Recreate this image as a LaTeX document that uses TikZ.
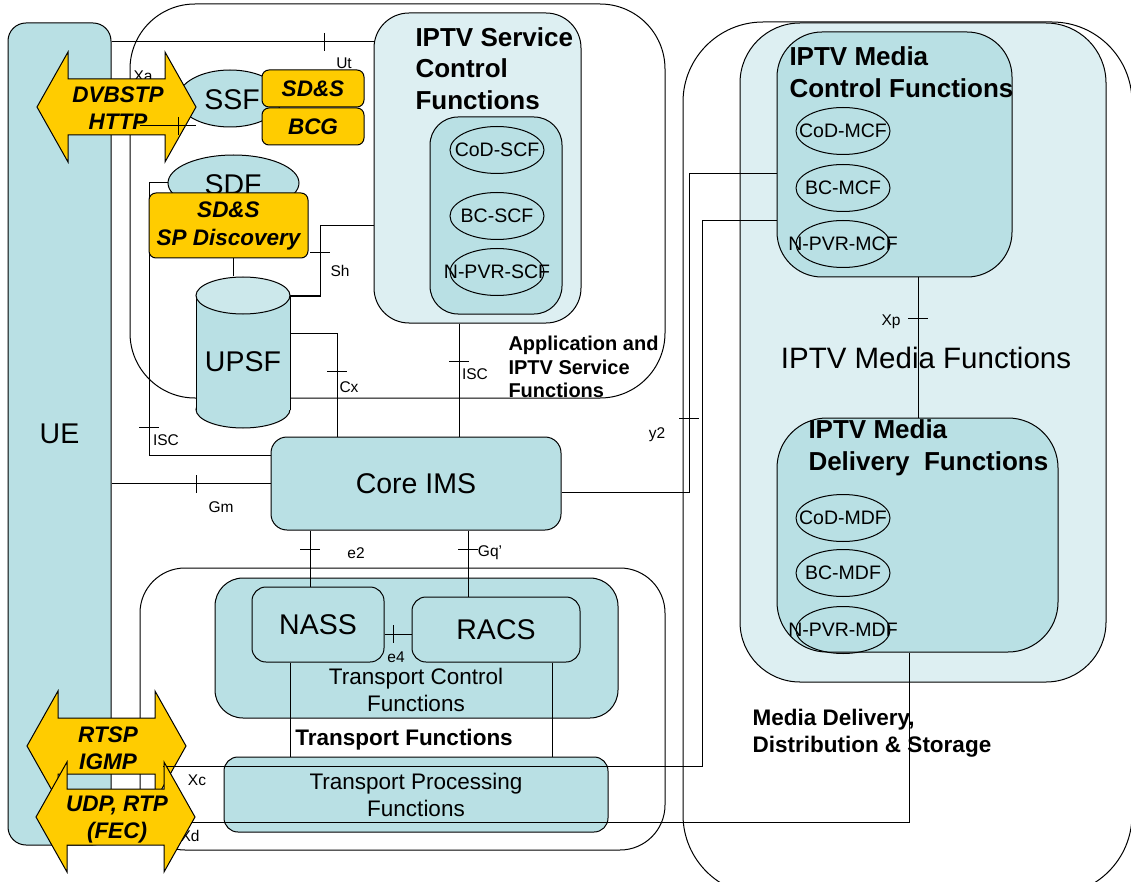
\documentclass[tikz,border=0pt]{standalone}
\usepackage{fontspec}
\setmainfont{Liberation Sans}
\usetikzlibrary{positioning,shapes.geometric}

\definecolor{boxteal}{RGB}{185,224,228}
\definecolor{boxlight}{RGB}{221,239,242}
\definecolor{captop}{RGB}{204,232,235}
\definecolor{protogold}{RGB}{255,204,0}

\tikzset{
  tealbox/.style={draw, fill=boxteal, rounded corners=#1, inner sep=0pt},
  lightbox/.style={draw, fill=boxlight, rounded corners=#1, inner sep=0pt},
  openbox/.style={draw, rounded corners=#1, inner sep=0pt},
  goldbox/.style={draw, fill=protogold, rounded corners=7pt, inner sep=0pt, align=center,
    font=\fontsize{22.5}{28}\selectfont\bfseries\itshape},
  fn/.style={draw, ellipse, minimum width=94pt, minimum height=47pt, inner sep=0pt},
  fntxt/.style={inner sep=0pt, font=\fontsize{19.5}{22}\selectfont},
  bigtxt/.style={font=\fontsize{28.5}{32}\selectfont},
  ttl/.style={anchor=west, align=left, inner sep=0pt, font=\fontsize{26}{31.5}\selectfont\bfseries},
  grp/.style={anchor=west, align=left, inner sep=0pt, font=\fontsize{20}{23.5}\selectfont\bfseries},
  midtxt/.style={align=center, inner sep=0pt, font=\fontsize{22.5}{27}\selectfont},
  ifc/.style={inner sep=0pt, font=\fontsize{15.5}{18}\selectfont},
  proto/.style={draw, fill=protogold, line join=miter},
  arrtxt/.style={align=center, inner sep=0pt, font=\fontsize{22.5}{27}\selectfont\bfseries\itshape},
}

\begin{document}
\begin{tikzpicture}[x=1pt, y=-1pt, line width=1pt]
\useasboundingbox (0,0) rectangle (1131,882);
\clip (0,0) rectangle (1131,882);

\def\ahl{31}
\def\ahh{55}
\def\ash{28}
\def\protoarrow#1#2#3{%
  \filldraw[proto] (#1,#3) -- (#1+\ahl,#3-\ahh) -- (#1+\ahl,#3-\ash) -- (#2-\ahl,#3-\ash)
    -- (#2-\ahl,#3-\ahh) -- (#2,#3) -- (#2-\ahl,#3+\ahh) -- (#2-\ahl,#3+\ash)
    -- (#1+\ahl,#3+\ash) -- (#1+\ahl,#3+\ahh) -- cycle;}

\node[openbox=80pt, minimum width=449pt, minimum height=873pt] (mds) at (907.5,458.5) {};
\node[openbox=65pt, minimum width=535pt, minimum height=394pt] (app) at (397.5,201) {};
\node[openbox=45pt, minimum width=525pt, minimum height=282pt] (trf) at (402.5,709) {};

\node[lightbox=60pt, minimum width=366pt, minimum height=659pt] (imf) at (923,352.5) {};
\node[tealbox=45pt, minimum width=235pt, minimum height=245pt] (mcf) at (894.5,154.5) {};
\node[tealbox=50pt, minimum width=281pt, minimum height=234pt] (mdf) at (917.5,535) {};
\node[ttl] at (789,72) {IPTV Media\\Control Functions};
\node[ttl] at (808,448) {IPTV Media\\Delivery~~Functions};
\node[inner sep=0pt, font=\fontsize{29.5}{32}\selectfont] at (926,358) {IPTV Media Functions};
\foreach \nm/\y/\t in {codmcf/131/CoD-MCF, bcmcf/188/BC-MCF, npvrmcf/244/N-PVR-MCF,
                       codmdf/518/CoD-MDF, bcmdf/573/BC-MDF, npvrmdf/630/N-PVR-MDF}{
  \node[fn] (\nm) at (843,\y) {};
  \node[fntxt] at (\nm) {\t};
}

\node[lightbox=35pt, minimum width=207pt, minimum height=310pt] (iscf) at (477.5,168) {};
\node[tealbox=28pt, minimum width=132pt, minimum height=197pt] (scf) at (496,215.5) {};
\node[ttl] at (415,68.5) {IPTV Service\\Control\\Functions};
\foreach \nm/\y/\t in {codscf/150/CoD-SCF, bcscf/216/BC-SCF, npvrscf/272/N-PVR-SCF}{
  \node[fn] (\nm) at (497,\y) {};
  \node[fntxt] at (\nm) {\t};
}

\node[tealbox=18pt, minimum width=103pt, minimum height=822pt, bigtxt] (ue) at (59.5,434) {UE};
\node[tealbox=16pt, minimum width=290pt, minimum height=93pt, bigtxt] (ims) at (416,483.5) {Core IMS};
\node[tealbox=28pt, minimum width=403pt, minimum height=140pt] (tcf) at (416.5,648) {};
\node[midtxt] at (416,689.5) {Transport Control\\Functions};
\node[tealbox=14pt, minimum width=132pt, minimum height=75pt, bigtxt] (nass) at (318,624.5) {NASS};
\node[tealbox=14pt, minimum width=168pt, minimum height=65pt, bigtxt] (racs) at (496,629.5) {RACS};
\node[tealbox=14pt, minimum width=384pt, minimum height=75pt, midtxt] (tpf) at (416,794.5) {Transport Processing\\Functions};

\node[grp] at (508,367) {Application and\\IPTV Service\\Functions};
\node[grp, font=\fontsize{22.5}{27}\selectfont\bfseries] at (752,733.5) {Media Delivery,\\Distribution \& Storage};
\node[inner sep=0pt, font=\fontsize{22.5}{27}\selectfont\bfseries] at (404,740) {Transport Functions};

\node[minimum width=94pt, minimum height=151pt, inner sep=0pt] (upsf) at (243,352.5) {};
\node[draw, ellipse, fill=boxteal, minimum width=131pt, minimum height=56pt, inner sep=0pt] (sdf) at (233.5,183) {};

\draw (ue.east |- 0,42) -- (iscf.west |- 0,42);
\draw (upsf.east |- 0,296) -| (320,226) -- (iscf.west |- 0,226);
\draw (sdf.south) -- (upsf.north -| sdf.south);
\draw (ims.north -| 337,0) |- (upsf.east |- 0,333);
\draw (ims.west |- 0,455) -| (149,183) -- (sdf.west);
\draw (iscf.south -| 459,0) -- (ims.north -| 459,0);
\draw (ue.east |- ims.west) -- (ims.west);
\draw (ims.south -| 310,0) -- (nass.north -| 310,0);
\draw (ims.south -| 468,0) -- (racs.north -| 468,0);
\draw (nass.east |- 0,634) -- (racs.west |- 0,634);
\draw (nass.south -| 290,0) -- (tpf.north -| 290,0);
\draw (racs.south -| 552,0) -- (tpf.north -| 552,0);
\draw (ims.east |- 0,492) -| (689,174) -- (mcf.west |- 0,174);
\draw (mcf.south -| 918,0) -- (mdf.north -| 918,0);

\foreach \x/\y in {324/42, 196/484, 393/634}
  \draw (\x,\y-9) -- (\x,\y+9);
\foreach \x/\y in {320/253, 337/371, 149/427, 459/361, 310/549, 468/549, 689/418, 918/318}
  \draw (\x-10,\y) -- (\x+10,\y);

\node[draw, ellipse, fill=boxteal, minimum width=104pt, minimum height=57pt, inner sep=0pt] (ssf) at (230,98.5) {};
\node[bigtxt] at (232,100) {SSF};
\node[goldbox, minimum width=102pt, minimum height=37pt] (sds) at (313,88.5) {SD\&S};
\node[goldbox, minimum width=102pt, minimum height=37pt] (bcg) at (313,126.5) {BCG};
\node[bigtxt] at (233,185) {SDF};
\node[goldbox, minimum width=159pt, minimum height=65pt] (spd) at (228.5,225.5) {SD\&S\\SP Discovery};

\filldraw[fill=boxteal] (243,409.5) ellipse (47 and 18.5);
\fill[boxteal] (196,295.5) rectangle (290,409.5);
\draw (196,295.5) -- (196,409.5) (290,295.5) -- (290,409.5);
\filldraw[fill=captop] (243,295.5) ellipse (47 and 18.5);
\node[bigtxt] at (243,362) {UPSF};

\foreach \x/\y/\t in {344/63/Ut, 143/76/Xa, 340/271/Sh, 349/387/Cx, 166/440/ISC, 475/374/ISC,
                      221/507/Gm, 356/553/e2, 490/553/Gq', 396/657/e4, 197/780/Xc, 190/836/Xd,
                      657/435/y2, 891/322/Xp}
  \node[ifc] at (\x,\y) {\t};

\protoarrow{37}{196}{107}
\node[arrtxt] (dvb) at (118,108.5) {DVBSTP\\HTTP};
\protoarrow{27}{186}{746}
\node[arrtxt] (rtsp) at (108,748.5) {RTSP\\IGMP};

\coordinate (xa) at (140,126);
\draw (xa) -- (xa -| 196,0);
\draw (178,117) -- (178,135);
\coordinate (xc) at (163,766);
\draw (xc) -| (702,221) -- (mcf.west |- 0,221);
\coordinate (xd) at (191,822);
\draw (xd) -| (mdf.south -| 909,0);

\protoarrow{36}{195}{817}
\node[arrtxt] (udp) at (117,820) {UDP, RTP\\(FEC)};

\end{tikzpicture}
\end{document}
